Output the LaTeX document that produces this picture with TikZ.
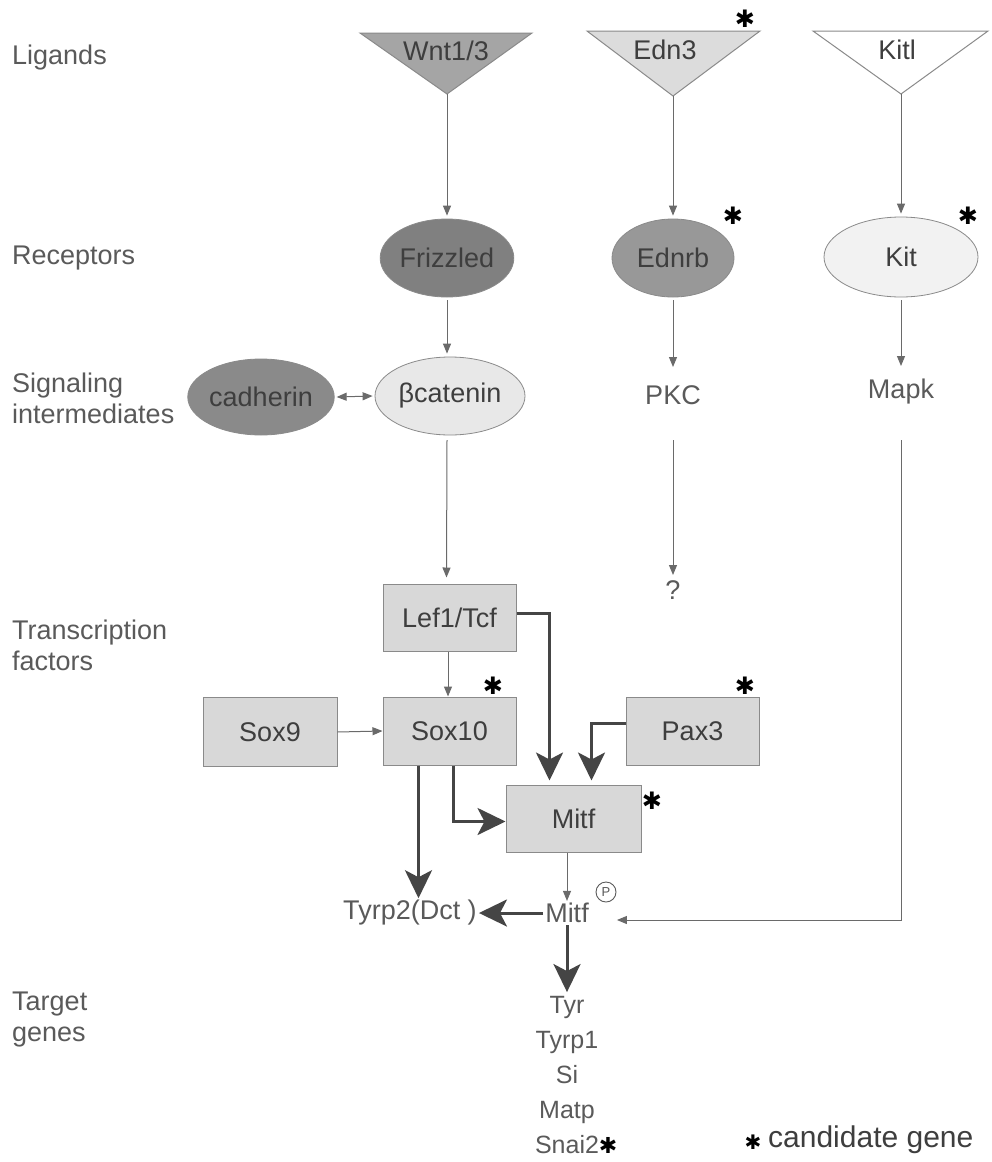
\documentclass[tikz,border=0pt]{standalone}
\usepackage{fontspec}
\setmainfont{Liberation Sans}
\newfontfamily\djv{DejaVu Sans}
\usetikzlibrary{arrows.meta,shapes.geometric,calc}
\definecolor{txt}{HTML}{5A5A5A}
\definecolor{ntxt}{HTML}{3E3E3E}
\definecolor{ln}{HTML}{6A6A6A}
\definecolor{thk}{HTML}{454545}
\definecolor{bord}{HTML}{8A8A8A}
\definecolor{boxfill}{HTML}{D8D8D8}
\begin{document}
\begin{tikzpicture}[x=1pt,y=-1pt,
  lbl/.style={font=\fontsize{27}{31}\selectfont, text=txt, anchor=west, align=left, inner sep=0pt},
  ntext/.style={font=\fontsize{27}{31}\selectfont, text=ntxt},
  ell/.style={ellipse, draw=bord, line width=0.8pt, inner sep=0pt, font=\fontsize{27}{31}\selectfont, text=ntxt},
  gbox/.style={rectangle, draw=bord, line width=1pt, fill=boxfill, minimum width=133pt, minimum height=68pt, inner sep=0pt, font=\fontsize{27}{31}\selectfont, text=ntxt},
  plain/.style={font=\fontsize{27}{31}\selectfont, text=txt, inner sep=2pt},
  thinarrow/.style={draw=ln, line width=1pt, -{Triangle[length=10pt,width=8pt]}},
  thickarrow/.style={draw=thk, line width=3pt, -{Stealth[length=28pt,width=27pt,inset=7pt]}},
  cand/.style={font=\djv\fontsize{24}{24}\selectfont, text=black, inner sep=0pt},
  lig/.style={draw=bord, line width=1pt}
]
\useasboundingbox (0,0) rectangle (991,1162);
\fill[white] (0,0) rectangle (991,1162);

% left labels
\node[lbl] (lLig) at (12,58) {Ligands};
\node[lbl] (lRec) at (12,258) {Receptors};
\node[lbl] (lSig) at (12,398) {Signaling\\intermediates};
\node[lbl] (lTF) at (12,645) {Transcription\\factors};
\node[lbl] (lTG) at (12,1019) {Target\\genes};

% ligands (triangles)
\coordinate (wntA) at (447,94);
\coordinate (ednA) at (673,96);
\coordinate (kitA) at (901,94);
\draw[lig, fill={rgb,255:red,165;green,165;blue,165}] (360,33) -- (532,33) -- (wntA) -- cycle;
\draw[lig, fill={rgb,255:red,220;green,220;blue,220}] (587,31) -- (760,31) -- (ednA) -- cycle;
\draw[lig, fill=white] (813,31) -- (988,31) -- (kitA) -- cycle;
\node[ntext] (wnt) at (446,51) {Wnt1/3};
\node[ntext] (edn) at (665,50) {Edn3};
\node[ntext] (kitl) at (897,50) {Kitl};
\node[cand] (s1) at (745,19) {✱};

% receptors
\node[ell, fill={rgb,255:red,128;green,128;blue,128}, minimum width=126pt, minimum height=78pt] (friz) at (447,258) {Frizzled};
\node[ell, fill={rgb,255:red,152;green,152;blue,152}, minimum width=122pt, minimum height=78pt] (ednrb) at (673,258) {Ednrb};
\node[ell, fill={rgb,255:red,242;green,242;blue,242}, minimum width=154pt, minimum height=80pt] (kit) at (901,257) {Kit};
\node[cand] (s2) at (733,216) {✱};
\node[cand] (s3) at (968,216) {✱};

\draw[thinarrow] (wntA) -- ([yshift=3pt]friz.north);
\draw[thinarrow] (ednA) -- ([yshift=3pt]ednrb.north);
\draw[thinarrow] (kitA) -- ([yshift=3pt]kit.north);

% signaling intermediates
\node[ell, fill={rgb,255:red,138;green,138;blue,138}, minimum width=116pt, minimum height=76pt] (cad) at (261,397) {cadherin};
\node[ell, fill={rgb,255:red,232;green,232;blue,232}, minimum width=150pt, minimum height=78pt] (bcat) at (450,396) {βcatenin};
\node[plain] (pkc) at (673,395) {PKC};
\node[plain] (mapk) at (901,392) {Mapk};
\node[plain] (q) at (673,590) {?};

\draw[thinarrow] ([yshift=-3pt]friz.south) -- ([yshift=3pt]friz.south |- bcat.north);
\draw[thinarrow] ([yshift=-3pt]ednrb.south) -- ([yshift=28pt]pkc.center);
\draw[thinarrow] ([yshift=-3pt]kit.south) -- ([yshift=26pt]mapk.center);
\draw[draw=ln, line width=1pt, {Triangle[length=10pt,width=8pt]}-{Triangle[length=10pt,width=8pt]}] ([xshift=2pt]cad.east) -- ([xshift=-2pt]bcat.west);

% transcription factors
\node[gbox, minimum height=67pt] (lef) at (449.5,617.5) {Lef1/Tcf};
\node[gbox] (sox10) at (449.5,731) {Sox10};
\node[gbox, minimum width=134pt, minimum height=69pt] (sox9) at (270,732) {Sox9};
\node[gbox] (pax) at (692.5,731) {Pax3};
\node[gbox, minimum width=135pt, minimum height=67pt] (mitf) at (573.5,818.5) {Mitf};
\node[cand] (s4) at (493,686) {✱};
\node[cand] (s5) at (745,686) {✱};
\node[cand] (s6) at (652,801) {✱};

\draw[thinarrow] ([xshift=-3pt,yshift=-44pt]bcat.center) -- ([xshift=-3pt,yshift=6pt]lef.north);
\draw[thinarrow] ([yshift=-45pt]pkc.center) -- ([yshift=15pt]q.center);
\draw[thinarrow] ([xshift=-1.5pt]lef.south) -- ([xshift=-1.5pt]sox10.north);
\draw[thinarrow] (sox9.east) -- (sox10.west);
\draw[thickarrow] ([yshift=4pt]lef.east) -| ([xshift=-24pt,yshift=4pt]mitf.north);
\draw[thickarrow] ([yshift=8pt]pax.west) -| ([xshift=18pt,yshift=4pt]mitf.north);
\draw[thickarrow] ([xshift=3.5pt]sox10.south) |- ([yshift=-3pt]mitf.west);

% Mitf-P and targets
\node[plain] (mitfp) at (567,913) {Mitf};
\node[circle, draw=txt, line width=0.9pt, inner sep=0pt, minimum size=20pt, font=\fontsize{13}{13}\selectfont, text=txt] (pcirc) at (606,892) {P};
\node[plain] (tyrp) at (410,913) {Tyrp2(Dct )};
\node[font=\fontsize{25}{35}\selectfont, text=txt, align=center, inner sep=0pt] (genes) at (567,1075)
  {Tyr\\Tyrp1\\Si\\Matp\\Snai2\rlap{\djv\fontsize{22}{22}\selectfont\color{black}✱}};

\draw[thinarrow] (mitfp.north |- mitf.south) -- (mitfp.north);
\coordinate (soxleft) at ([xshift=-31pt]sox10.south);
\draw[thickarrow] (soxleft) -- (soxleft |- tyrp.north);
\draw[thickarrow] (mitfp.west) -- (tyrp.east);
\draw[thickarrow] (mitfp.south) -- ([yshift=4pt]genes.north);
\coordinate (mapkturn) at (901,920);
\draw[thinarrow] ([yshift=-48pt]mapk.center) -- (mapkturn) -- ([xshift=26pt,yshift=-7pt]mitfp.east);

% legend
\node[cand, font=\djv\fontsize{20}{20}\selectfont] (s7) at (753,1142) {✱};
\node[font=\fontsize{30}{34}\selectfont, text=ntxt, anchor=west, inner sep=0pt] (leg) at (768,1140) {candidate gene};
\end{tikzpicture}
\end{document}
